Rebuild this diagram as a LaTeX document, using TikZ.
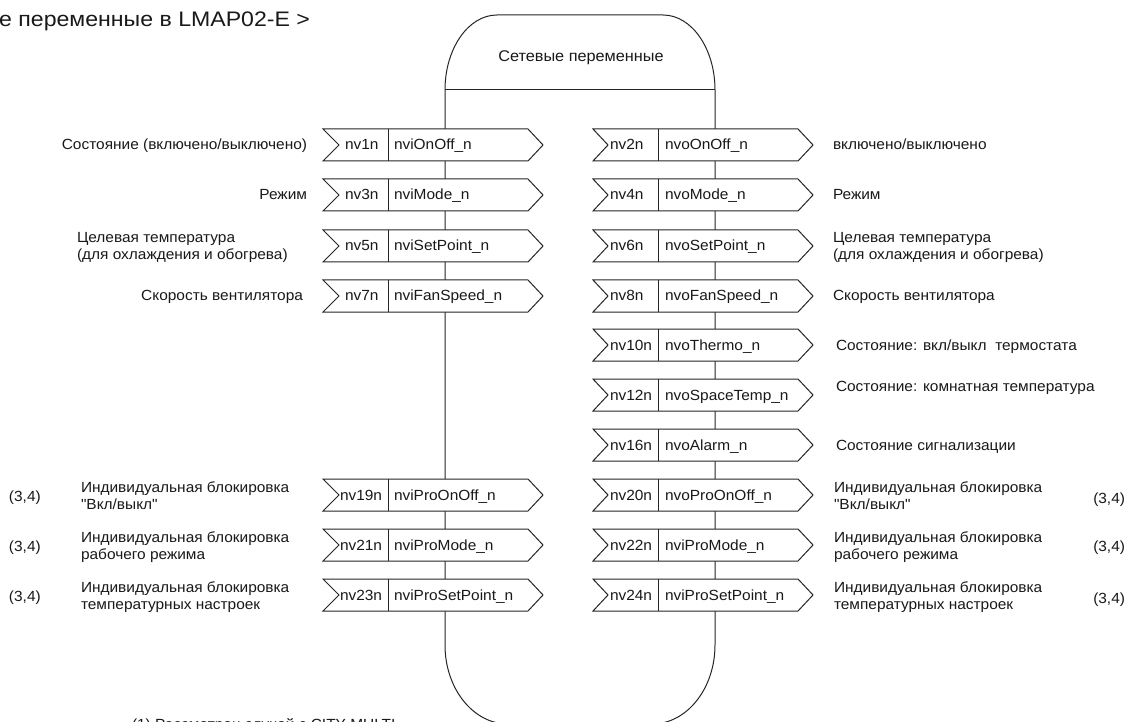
\documentclass[tikz,border=0pt]{standalone}
\usepackage{fontspec}
\setmainfont[FakeStretch=1.05, Ligatures=TeXOff]{Liberation Sans}
\newfontfamily\titlefont[FakeStretch=1.1]{Liberation Sans}
\tikzset{
  lbl/.style={inner sep=0pt, outer sep=0pt, font=\fontsize{14.7}{17}\selectfont, text=black!90},
  boxline/.style={draw=black!85, line width=1pt},
}
% left box: #1 name, #2 mid y, #3 id, #4 variable, #5 id inset
\newcommand{\lbox}[5]{%
  \path[boxline, fill=white] (323,#2-16) -- (528,#2-16) -- (543,#2) -- (528,#2+16) -- (323,#2+16) -- (339,#2) -- cycle;
  \draw[boxline] (388,#2-16) -- (388,#2+16);
  \node[lbl, anchor=base west] (#1a) at (339+#5,#2+5) {#3};
  \node[lbl, anchor=base west] (#1b) at (394,#2+5) {#4};
}
\newcommand{\rbox}[5]{%
  \path[boxline, fill=white] (593,#2-16) -- (798,#2-16) -- (813,#2) -- (798,#2+16) -- (593,#2+16) -- (608,#2) -- cycle;
  \draw[boxline] (658,#2-16) -- (658,#2+16);
  \node[lbl, anchor=base west] (#1a) at (608+#5,#2+5) {#3};
  \node[lbl, anchor=base west] (#1b) at (665,#2+5) {#4};
}
\newcommand{\dq}{{\char34}}
\begin{document}
\begin{tikzpicture}[x=1pt,y=-1pt]
\clip (0,0) rectangle (1133,722);
\fill[white] (0,0) rectangle (1133,722);

% title (cut off at left edge)
\node[inner sep=0pt, anchor=base west, font=\titlefont\fontsize{21}{24}\selectfont, text=black!90] (title) at (-1,27) {е переменные в LMAP02-E >};

% container
\draw[boxline] (445,645) -- (445,90) .. controls (445,48.6) and (468.3,15) .. (497,15) -- (663,15) .. controls (691.7,15) and (715,48.6) .. (715,90) -- (715,645) .. controls (715,688.6) and (686.8,724) .. (652,724) -- (508,724) .. controls (473.2,724) and (445,688.6) .. (445,645);
\draw[boxline] (445,90) -- (715,90);
\node[lbl, font=\fontsize{15.5}{18}\selectfont, anchor=base] (hdr) at (581,62) {Сетевые переменные};

% left boxes
\lbox{L1}{145}{nv1n}{nviOnOff\_n}{6}
\lbox{L2}{195}{nv3n}{nviMode\_n}{6}
\lbox{L3}{246}{nv5n}{nviSetPoint\_n}{6}
\lbox{L4}{296}{nv7n}{nviFanSpeed\_n}{6}
\lbox{L8}{495}{nv19n}{nviProOnOff\_n}{1}
\lbox{L9}{545}{nv21n}{nviProMode\_n}{1}
\lbox{L10}{595}{nv23n}{nviProSetPoint\_n}{1}

% right boxes
\rbox{R1}{145}{nv2n}{nvoOnOff\_n}{2}
\rbox{R2}{195}{nv4n}{nvoMode\_n}{2}
\rbox{R3}{246}{nv6n}{nvoSetPoint\_n}{2}
\rbox{R4}{296}{nv8n}{nvoFanSpeed\_n}{2}
\rbox{R5}{345}{nv10n}{nvoThermo\_n}{2}
\rbox{R6}{395}{nv12n}{nvoSpaceTemp\_n}{2}
\rbox{R7}{445}{nv16n}{nvoAlarm\_n}{2}
\rbox{R8}{495}{nv20n}{nvoProOnOff\_n}{2}
\rbox{R9}{545}{nv22n}{nviProMode\_n}{2}
\rbox{R10}{595}{nv24n}{nviProSetPoint\_n}{2}

% left labels
\node[lbl, anchor=base east] (tl1) at (307,150) {Состояние (включено/выключено)};
\node[lbl, anchor=base east] (tl2) at (307,200) {Режим};
\node[lbl, anchor=base west] (tl3a) at (77,243) {Целевая температура};
\node[lbl, anchor=base west] (tl3b) at (77,260) {(для охлаждения и обогрева)};
\node[lbl, anchor=base east] (tl4) at (303,301) {Скорость вентилятора};

\node[lbl, anchor=base west] (tl8a) at (81,492) {Индивидуальная блокировка};
\node[lbl, anchor=base west] (tl8b) at (81,509) {\dq Вкл/выкл\dq};
\node[lbl, anchor=base west] (tl9a) at (81,542) {Индивидуальная блокировка};
\node[lbl, anchor=base west] (tl9b) at (81,559) {рабочего режима};
\node[lbl, anchor=base west] (tl10a) at (81,592) {Индивидуальная блокировка};
\node[lbl, anchor=base west] (tl10b) at (81,609) {температурных настроек};
\node[lbl, anchor=base west] (nl8) at (9,501) {(3,4)};
\node[lbl, anchor=base west] (nl9) at (9,551) {(3,4)};
\node[lbl, anchor=base west] (nl10) at (9,601) {(3,4)};

% right labels
\node[lbl, anchor=base west] (tr1) at (833,150) {включено/выключено};
\node[lbl, anchor=base west] (tr2) at (833,200) {Режим};
\node[lbl, anchor=base west] (tr3a) at (833,243) {Целевая температура};
\node[lbl, anchor=base west] (tr3b) at (833,260) {(для охлаждения и обогрева)};
\node[lbl, anchor=base west] (tr4) at (833,301) {Скорость вентилятора};
\node[lbl, anchor=base west] (tr5) at (836,350) {Состояние: вкл/выкл\ \ термостата};
\node[lbl, anchor=base west] (tr6) at (836,391) {Состояние: комнатная температура};
\node[lbl, anchor=base west] (tr7) at (836,450) {Состояние сигнализации};

\node[lbl, anchor=base west] (tr8a) at (834,492) {Индивидуальная блокировка};
\node[lbl, anchor=base west] (tr8b) at (834,509) {\dq Вкл/выкл\dq};
\node[lbl, anchor=base west] (tr9a) at (834,542) {Индивидуальная блокировка};
\node[lbl, anchor=base west] (tr9b) at (834,559) {рабочего режима};
\node[lbl, anchor=base west] (tr10a) at (834,592) {Индивидуальная блокировка};
\node[lbl, anchor=base west] (tr10b) at (834,609) {температурных настроек};
\node[lbl, anchor=base east] (nr8) at (1125,503) {(3,4)};
\node[lbl, anchor=base east] (nr9) at (1125,551) {(3,4)};
\node[lbl, anchor=base east] (nr10) at (1125,603) {(3,4)};

% footnote (cut off at bottom edge, as in the reference)
\node[lbl, anchor=base west] (foot) at (132,729) {(1) Рассматрен случай с CITY MULTI};
\end{tikzpicture}
\end{document}
